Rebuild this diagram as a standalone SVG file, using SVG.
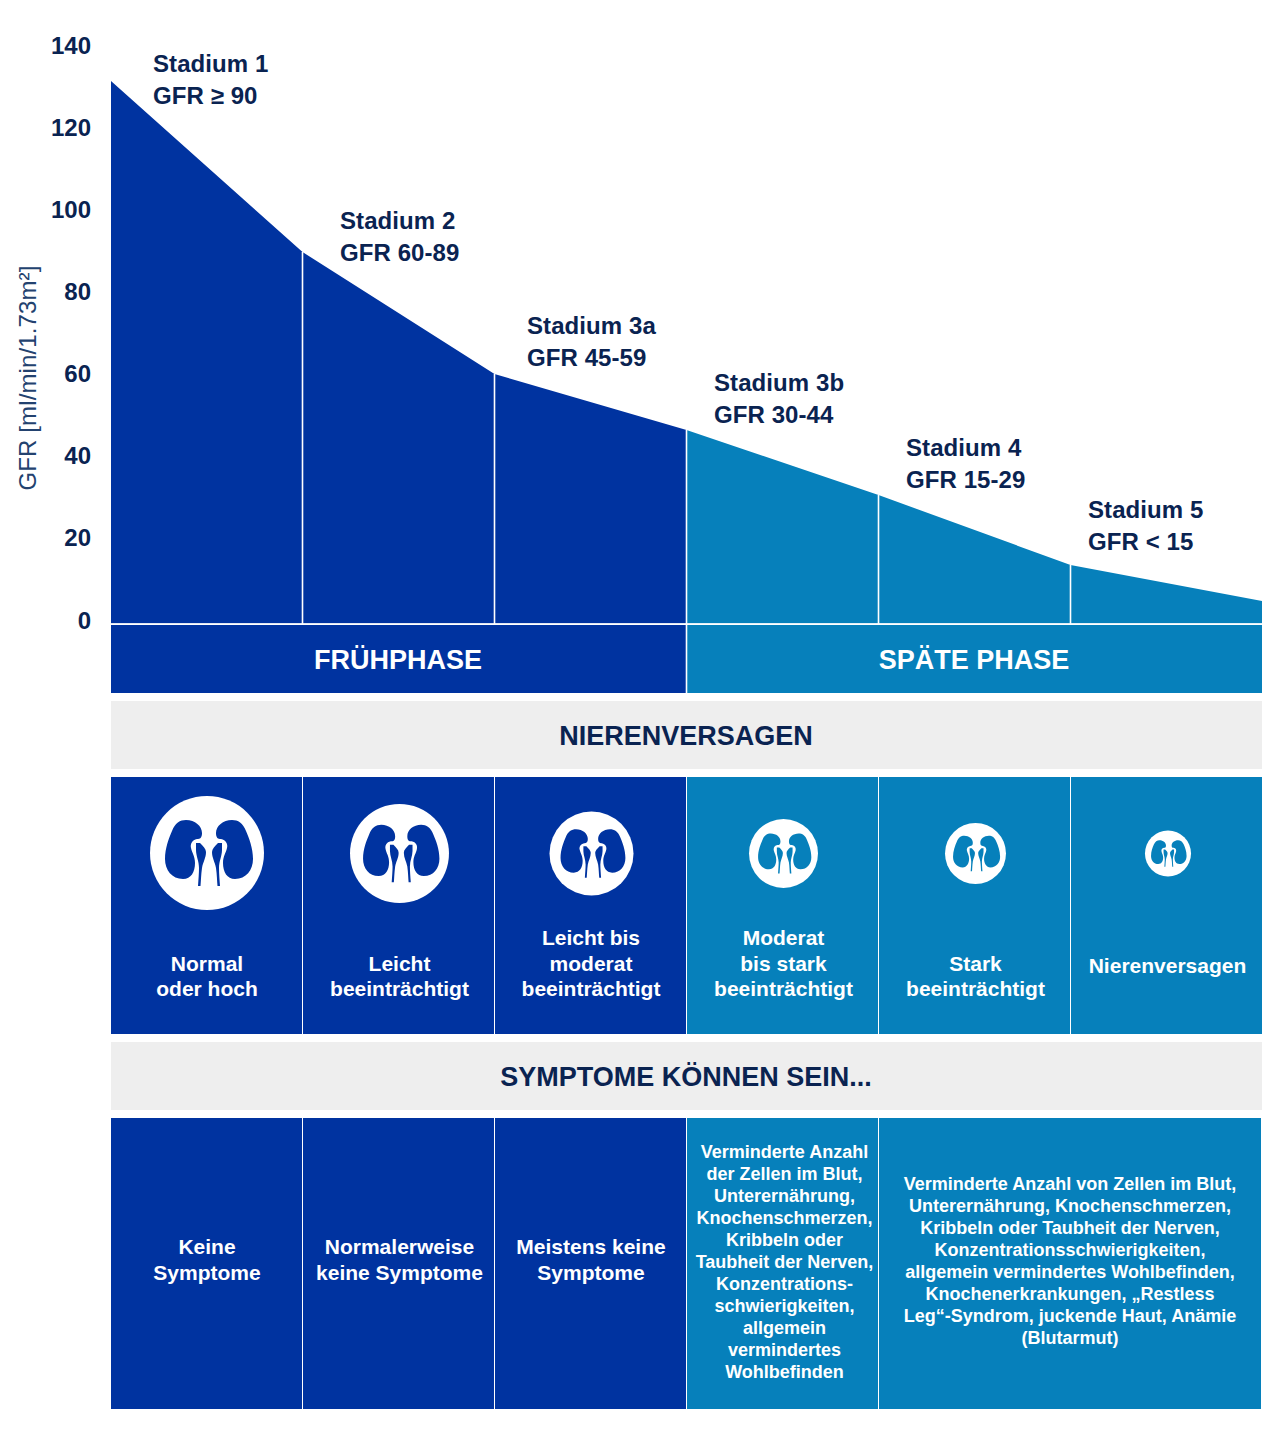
<svg xmlns="http://www.w3.org/2000/svg" xmlns:xlink="http://www.w3.org/1999/xlink" width="1280" height="1446" viewBox="0 0 1280 1446">
<style>
text{font-family:"Liberation Sans",Arial,sans-serif;font-weight:700}
.n{fill:#0a2351}
.t{font-size:24px;text-anchor:end}
.s{font-size:24px;letter-spacing:.08px}
.h{font-size:27px;text-anchor:middle}
.w{fill:#fff;text-anchor:middle}
.m{font-size:21px}
.x{font-size:18px}
.d{fill:#0033a0}
.b{fill:#0680bb}
.g{fill:#eeeeee}
.l{stroke:#fff;stroke-width:1.6;fill:none}
</style>
<defs>
<g id="kidney">
<circle r="57" fill="#fff"/>
<g id="kh"><path d="M-21,-33C-12,-33 -5,-27 -5,-20C-5,-15 -7,-14 -10,-14C-15,-13 -17,-9 -16,-5C-15,0 -12,3 -12,10C-12,19 -16,26 -24,26C-35,26 -42,17 -42,6C-42,-5 -38,-15 -35,-22C-32,-30 -27,-33 -21,-33Z"/>
<path d="M-11,-10L-7,-10C-4,-7 -1,-4 -1,-1C-1,5 -4,9 -5,15C-6,22 -6,28 -6.5,33L-9,33C-8.5,26 -8,20 -8,15C-8,8 -11,3 -11,-3Z"/></g>
<use xlink:href="#kh" href="#kh" transform="translate(4,0) scale(-1,1)"/>
</g>
</defs>
<g id="axis">
<text class="n t" x="91" y="54">140</text>
<text class="n t" x="91" y="136">120</text>
<text class="n t" x="91" y="218">100</text>
<text class="n t" x="91" y="300">80</text>
<text class="n t" x="91" y="382">60</text>
<text class="n t" x="91" y="464">40</text>
<text class="n t" x="91" y="546">20</text>
<text class="n t" x="91" y="629">0</text>
<text transform="translate(36,490.5) rotate(-90)" font-size="24" style="font-weight:400;letter-spacing:.12px" fill="#23426f">GFR [ml/min/1.73m²]</text>
</g>
<g id="chart">
<polygon class="d" points="111,81 302.5,252 494.5,374 686.5,430 686.5,623.5 111,623.5"/>
<polygon class="b" points="686.5,430 878.5,495 1070.5,565 1262,601 1262,623.5 686.5,623.5"/>
</g>
<g id="stage-labels">
<g id="stadium-1"><text class="n s" x="153" y="72">Stadium 1</text><text class="n s" x="153" y="104">GFR ≥ 90</text></g>
<g id="stadium-2"><text class="n s" x="340" y="229">Stadium 2</text><text class="n s" x="340" y="261">GFR 60-89</text></g>
<g id="stadium-3a"><text class="n s" x="527" y="334">Stadium 3a</text><text class="n s" x="527" y="366">GFR 45-59</text></g>
<g id="stadium-3b"><text class="n s" x="714" y="391">Stadium 3b</text><text class="n s" x="714" y="423">GFR 30-44</text></g>
<g id="stadium-4"><text class="n s" x="906" y="456">Stadium 4</text><text class="n s" x="906" y="488">GFR 15-29</text></g>
<g id="stadium-5"><text class="n s" x="1088" y="518">Stadium 5</text><text class="n s" x="1088" y="550">GFR &lt; 15</text></g>
</g>
<g id="fruehphase"><rect class="d" x="111" y="625" width="575.5" height="68"/><text class="h w" x="398" y="669">FRÜHPHASE</text></g>
<g id="spaete-phase"><rect class="b" x="687" y="625" width="575" height="68"/><text class="h w" x="974" y="669">SPÄTE PHASE</text></g>
<g id="connectors">
<path class="l" d="M302.5,252V623.5M494.5,374V623.5M686.5,430V693M878.5,495V623.5M1070.5,565V623.5M111,624H1262"/>
</g>
<g id="nierenversagen"><rect class="g" x="111" y="701" width="1151" height="68"/><text class="h n" x="686" y="745">NIERENVERSAGEN</text></g>
<g id="c1"><rect class="d" x="111" y="777" width="191" height="257"/><use xlink:href="#kidney" href="#kidney" transform="translate(207,853)" fill="#0033a0"/><text class="m w" x="207" y="971">Normal</text><text class="m w" x="207" y="996">oder hoch</text></g>
<g id="c2"><rect class="d" x="303" y="777" width="191" height="257"/><use xlink:href="#kidney" href="#kidney" transform="translate(399.5,853.5) scale(.868)" fill="#0033a0"/><text class="m w" x="399.5" y="971">Leicht</text><text class="m w" x="399.5" y="996">beeinträchtigt</text></g>
<g id="c3"><rect class="d" x="495" y="777" width="191" height="257"/><use xlink:href="#kidney" href="#kidney" transform="translate(591.5,853.5) scale(.737)" fill="#0033a0"/><text class="m w" x="591" y="945">Leicht bis</text><text class="m w" x="591" y="971">moderat</text><text class="m w" x="591" y="996">beeinträchtigt</text></g>
<g id="c4"><rect class="b" x="687" y="777" width="191" height="257"/><use xlink:href="#kidney" href="#kidney" transform="translate(783.5,853.5) scale(.605)" fill="#0680bb"/><text class="m w" x="783.5" y="945">Moderat</text><text class="m w" x="783.5" y="971">bis stark</text><text class="m w" x="783.5" y="996">beeinträchtigt</text></g>
<g id="c5"><rect class="b" x="879" y="777" width="191" height="257"/><use xlink:href="#kidney" href="#kidney" transform="translate(975.5,853.5) scale(.535)" fill="#0680bb"/><text class="m w" x="975.5" y="971">Stark</text><text class="m w" x="975.5" y="996">beeinträchtigt</text></g>
<g id="c6"><rect class="b" x="1071" y="777" width="191" height="257"/><use xlink:href="#kidney" href="#kidney" transform="translate(1168,853.5) scale(.404)" fill="#0680bb"/><text class="m w" x="1167.5" y="973">Nierenversagen</text></g>
<g id="symptome"><rect class="g" x="111" y="1042" width="1151" height="68"/><text class="h n" x="686" y="1086">SYMPTOME KÖNNEN SEIN...</text></g>
<g id="s1"><rect class="d" x="111" y="1118" width="191" height="291"/><text class="m w" x="207" y="1254">Keine</text><text class="m w" x="207" y="1280">Symptome</text></g>
<g id="s2"><rect class="d" x="303" y="1118" width="191" height="291"/><text class="m w" x="399.5" y="1254">Normalerweise</text><text class="m w" x="399.5" y="1280">keine Symptome</text></g>
<g id="s3"><rect class="d" x="495" y="1118" width="191" height="291"/><text class="m w" x="591" y="1254">Meistens keine</text><text class="m w" x="591" y="1280">Symptome</text></g>
<g id="s4"><rect class="b" x="687" y="1118" width="191" height="291"/>
<text class="x w" x="784.5" y="1158">Verminderte Anzahl</text><text class="x w" x="784.5" y="1180">der Zellen im Blut,</text><text class="x w" x="784.5" y="1202">Unterernährung,</text><text class="x w" x="784.5" y="1224">Knochenschmerzen,</text><text class="x w" x="784.5" y="1246">Kribbeln oder</text><text class="x w" x="784.5" y="1268">Taubheit der Nerven,</text><text class="x w" x="784.5" y="1290">Konzentrations-</text><text class="x w" x="784.5" y="1312">schwierigkeiten,</text><text class="x w" x="784.5" y="1334">allgemein</text><text class="x w" x="784.5" y="1356">vermindertes</text><text class="x w" x="784.5" y="1378">Wohlbefinden</text></g>
<g id="s5"><rect class="b" x="879" y="1118" width="382" height="291"/>
<text class="x w" x="1070" y="1190">Verminderte Anzahl von Zellen im Blut,</text><text class="x w" x="1070" y="1212">Unterernährung, Knochenschmerzen,</text><text class="x w" x="1070" y="1234">Kribbeln oder Taubheit der Nerven,</text><text class="x w" x="1070" y="1256">Konzentrationsschwierigkeiten,</text><text class="x w" x="1070" y="1278">allgemein vermindertes Wohlbefinden,</text><text class="x w" x="1070" y="1300">Knochenerkrankungen, „Restless</text><text class="x w" x="1070" y="1322">Leg“-Syndrom, juckende Haut, Anämie</text><text class="x w" x="1070" y="1344">(Blutarmut)</text></g>
</svg>
